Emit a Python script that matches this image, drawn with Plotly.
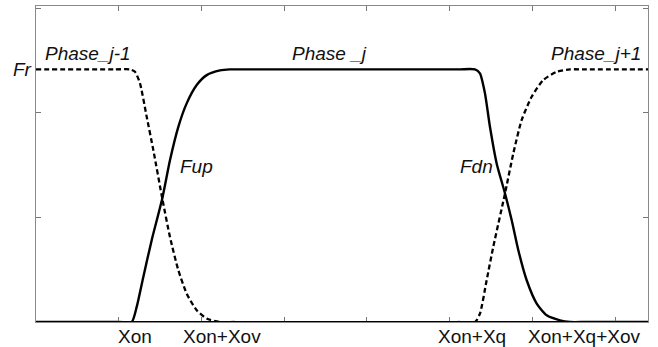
import plotly.graph_objects as go

# ---- data ----
fr_level = 2.415

phase_prev_x = [0, 0.95, 1.136, 1.196, 1.256, 1.338, 1.418, 1.526, 1.619, 1.720, 1.821, 1.942, 2.063, 2.224, 2.40]
phase_prev_y = [2.415, 2.415, 2.415, 2.392, 2.284, 1.961, 1.643, 1.181, 0.813, 0.495, 0.272, 0.112, 0.033, 0, 0]

phase_j_x = [0, 1.0, 1.157, 1.217, 1.297, 1.398, 1.526, 1.619, 1.720, 1.821, 1.942, 2.063, 2.224, 2.344, 2.55,
             5.10, 5.305, 5.365, 5.426, 5.486, 5.567, 5.668, 5.749, 5.829, 5.930, 6.051, 6.172, 6.332, 6.453, 6.65, 7.396]
phase_j_y = [0, 0, 0, 0.144, 0.431, 0.782, 1.181, 1.547, 1.866, 2.090, 2.265, 2.360, 2.405, 2.415, 2.415,
             2.415, 2.415, 2.377, 2.185, 1.866, 1.516, 1.229, 0.973, 0.686, 0.399, 0.176, 0.064, 0.016, 0, 0, 0]

phase_next_x = [5.10, 5.305, 5.365, 5.446, 5.526, 5.668, 5.768, 5.869, 5.990, 6.130, 6.292, 6.453, 6.65, 7.396]
phase_next_y = [0, 0, 0.080, 0.399, 0.718, 1.229, 1.611, 1.930, 2.153, 2.313, 2.392, 2.415, 2.415, 2.415]

x_labels = ["Xon", "Xon+Xov", "Xon+Xq", "Xon+Xq+Xov"]
x_label_pos = [1.196, 2.248, 5.269, 6.622]

curve_labels = ["<i>Phase_j-1</i>", "<i>Phase _j</i>", "<i>Phase_j+1</i>", "<i>Fup</i>", "<i>Fdn</i>"]
curve_label_x = [0.628, 3.541, 6.773, 1.934, 5.329]
curve_label_y = [2.567, 2.567, 2.567, 1.485, 1.485]

x_range = [0, 7.396]
y_range = [0, 3.021]

FONT = "Liberation Sans, Arial, sans-serif"

fig = go.Figure()
dash_style = "5px,3px"
fig.add_trace(go.Scatter(x=phase_prev_x, y=phase_prev_y, mode="lines",
                         line=dict(color="black", width=2.3, dash=dash_style, shape="spline", smoothing=0.6),
                         hoverinfo="skip", showlegend=False))
fig.add_trace(go.Scatter(x=phase_next_x, y=phase_next_y, mode="lines",
                         line=dict(color="black", width=2.3, dash=dash_style, shape="spline", smoothing=0.6),
                         hoverinfo="skip", showlegend=False))
fig.add_trace(go.Scatter(x=phase_j_x, y=phase_j_y, mode="lines",
                         line=dict(color="black", width=2.4, shape="spline", smoothing=0.6),
                         hoverinfo="skip", showlegend=False))

annotations = []
for t, x in zip(x_labels, x_label_pos):
    annotations.append(dict(text=t, x=x, xref="x", y=-0.047, yref="paper", yanchor="middle",
                            xanchor="center", showarrow=False, font=dict(size=19, color="#111", family=FONT)))
for t, x, y in zip(curve_labels, curve_label_x, curve_label_y):
    annotations.append(dict(text=t, x=x, y=y, xref="x", yref="y", xanchor="center", yanchor="middle",
                            showarrow=False, font=dict(size=19, color="#111", family=FONT)))
annotations.append(dict(text="<i>Fr</i>", x=-0.004, xref="paper", y=fr_level, yref="y", xanchor="right",
                        yanchor="middle", showarrow=False, font=dict(size=19, color="#111", family=FONT)))

axis_common = dict(showgrid=False, zeroline=False, showline=True, linecolor="#8a8a8a", linewidth=1,
                   mirror="ticks", ticks="inside", ticklen=5, tickwidth=1, tickcolor="#777",
                   showticklabels=False, fixedrange=True)

fig.update_layout(
    width=658, height=347,
    margin=dict(l=36, r=10, t=6, b=25),
    paper_bgcolor="white", plot_bgcolor="white",
    xaxis=dict(range=x_range, tickmode="array", tickvals=[1, 2, 3, 4, 5, 6, 7], **axis_common),
    yaxis=dict(range=y_range, tickmode="array", tickvals=[1, 2, 3], **axis_common),
    annotations=annotations,
    shapes=[dict(type="line", xref="paper", x0=0, x1=1, yref="y", y0=0, y1=0,
                 line=dict(color="black", width=2), layer="above")],
)

fig.write_html("out.html")
